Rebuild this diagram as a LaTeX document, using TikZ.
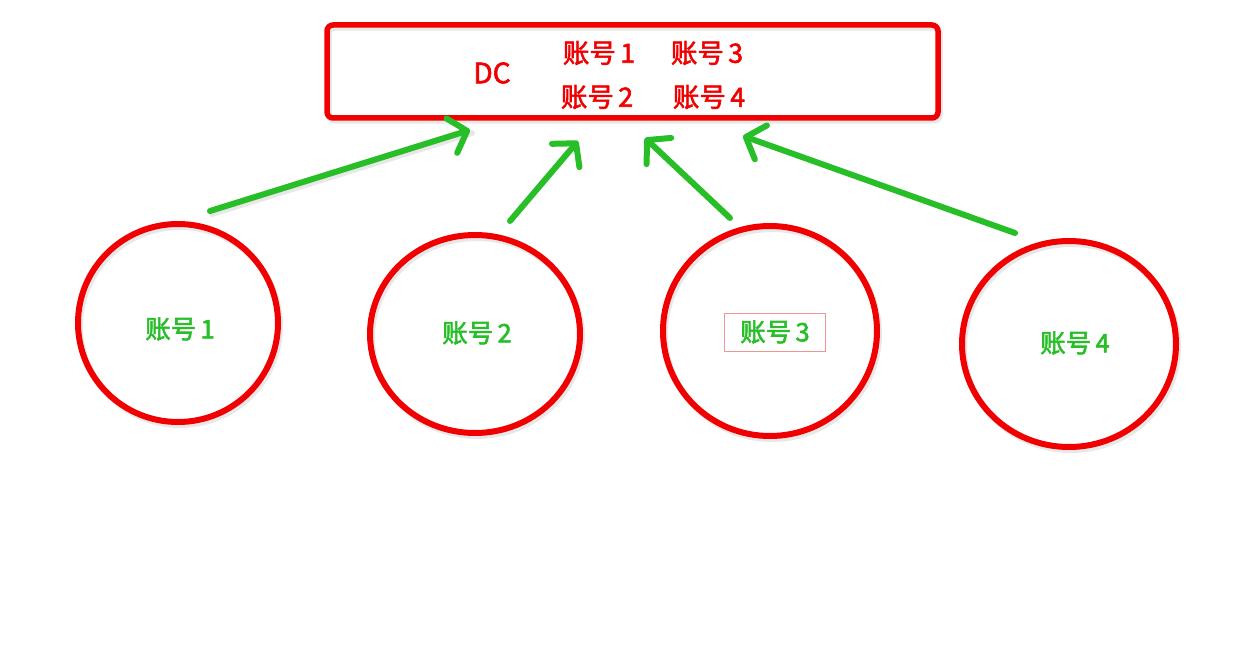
\documentclass[tikz,border=0pt]{standalone}
\usepackage{fontspec}
\setmainfont{Noto Sans CJK SC}[UprightFeatures={FakeBold=2.2}]
\usetikzlibrary{arrows.meta}
\definecolor{myred}{RGB}{240,0,0}
\definecolor{mygreen}{RGB}{40,190,40}
\definecolor{mypink}{RGB}{240,150,150}
\tikzset{
  x=1pt, y=-1pt,
  lbl/.style={text=mygreen, font=\fontsize{25.5}{28}\selectfont},
  boxtxt/.style={text=myred, font=\fontsize{26.5}{28}\selectfont},
  conn/.style={draw=mygreen, line width=6pt, line cap=round,
    -{Straight Barb[length=16pt, width=36pt, line width=6pt, line cap=round, line join=round]}},
  shadowc/.style={gray!35, opacity=0.5},
  ring/.style={line width=6pt}
}
\newcommand{\acc}[1]{账号\,#1}
\begin{document}
\begin{tikzpicture}
\useasboundingbox (0,0) rectangle (1240,650);
\fill[white] (0,0) rectangle (1240,650);
% top box
\draw[shadowc, line width=5.5pt, rounded corners=6pt] (329,28) rectangle (940,121);
\node[draw=myred, line width=5.5pt, rounded corners=6pt, minimum width=611pt, minimum height=93pt, inner sep=0pt] (dc) at (632.5,71.5) {};
\node[boxtxt, font=\fontsize{28}{30}\selectfont] (dct) at (492,73) {DC};
\node[boxtxt] (a1) at (599,53) {\acc{1}};
\node[boxtxt] (a3) at (707,53) {\acc{3}};
\node[boxtxt] (a2) at (597,97) {\acc{2}};
\node[boxtxt] (a4) at (709,97) {\acc{4}};
% circles
\draw[shadowc, ring] (180,326) ellipse [x radius=100, y radius=99];
\draw[shadowc, ring] (477,337) ellipse [x radius=105, y radius=99];
\draw[shadowc, ring] (772,334) ellipse [x radius=107, y radius=105];
\draw[shadowc, ring] (1071,347) ellipse [x radius=107, y radius=103];
\draw[myred, ring] (178,323) ellipse [x radius=100, y radius=99];
\draw[myred, ring] (475,334) ellipse [x radius=105, y radius=99];
\draw[myred, ring] (770,331) ellipse [x radius=107, y radius=105];
\draw[myred, ring] (1069,344) ellipse [x radius=107, y radius=103];
\node[lbl] (c1) at (180,329) {\acc{1}};
\node[lbl] (c2) at (477,333) {\acc{2}};
\node[lbl, draw=mypink, line width=0.8pt, minimum width=101pt, minimum height=38pt, inner sep=0pt] (c3) at (775,332) {\acc{3}};
\node[lbl] (c4) at (1075,343) {\acc{4}};
% arrow end points
\coordinate (s1) at (210,211);
\coordinate (e1) at (470,130);
\coordinate (s2) at (510,221);
\coordinate (e2) at (578,141);
\coordinate (s3) at (730,218);
\coordinate (e3) at (645,138);
\coordinate (s4) at (1015,233);
\coordinate (e4) at (743,136);
\draw[shadowc, line width=6pt, line cap=round] ([shift={(2,3)}]s1) -- ([shift={(2,3)}]e1);
\draw[conn] (s1) -- (e1);
\draw[conn] (s2) -- (e2);
\draw[conn] (s3) -- (e3);
\draw[conn] (s4) -- (e4);
\end{tikzpicture}
\end{document}
